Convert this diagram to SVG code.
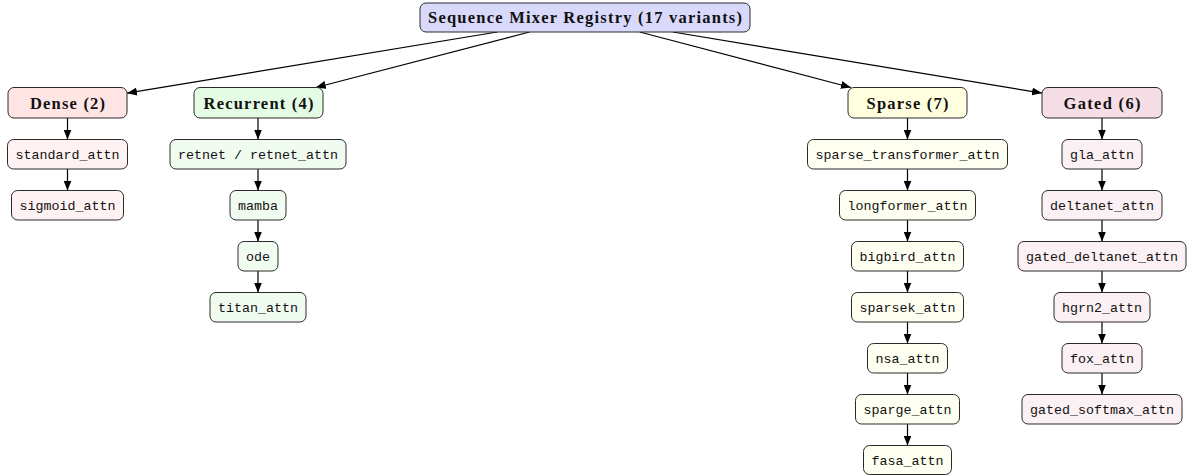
<svg xmlns="http://www.w3.org/2000/svg" width="1188" height="475" viewBox="0 0 1188 475">
<style>
rect{stroke:#2a2a2a;stroke-width:1}
.cat{font-family:"Liberation Serif",serif;font-weight:bold;font-size:16.5px;fill:#111;text-anchor:middle}
.lf{font-family:"Liberation Mono",monospace;font-size:13.33px;fill:#111;text-anchor:middle}
.e{stroke:#000;stroke-width:1.2;fill:none;marker-end:url(#ah)}
.r0{fill:#d9d9fc}
.dc{fill:#ffe4e4}.dl{fill:#fff2f2}
.rc{fill:#e4fce4}.rl{fill:#f1fcf1}
.sc{fill:#ffffdf}.sl{fill:#fefef1}
.gc{fill:#f6dee6}.gl{fill:#fbf0f3}
</style>
<defs>
<marker id="ah" viewBox="0 0 10 8" refX="10" refY="4" markerWidth="10" markerHeight="8" markerUnits="userSpaceOnUse" orient="auto">
<path d="M0,0 L10,4 L0,8 z" fill="#000"/>
</marker>
</defs>
<g id="connectors">
<line class="e" x1="497.2" y1="32" x2="127" y2="93.2"/>
<line class="e" x1="529.6" y1="32" x2="315.8" y2="87.5"/>
<line class="e" x1="639.7" y1="32" x2="850.9" y2="87.5"/>
<line class="e" x1="672.7" y1="32" x2="1042" y2="93.1"/>
<line class="e" x1="67.5" y1="118" x2="67.5" y2="139.5"/>
<line class="e" x1="67.5" y1="169" x2="67.5" y2="190.5"/>
<line class="e" x1="258" y1="118" x2="258" y2="139.5"/>
<line class="e" x1="258" y1="169" x2="258" y2="190.5"/>
<line class="e" x1="258" y1="220" x2="258" y2="241.5"/>
<line class="e" x1="258" y1="271" x2="258" y2="292.5"/>
<line class="e" x1="907.5" y1="118" x2="907.5" y2="139.5"/>
<line class="e" x1="907.5" y1="169" x2="907.5" y2="190.5"/>
<line class="e" x1="907.5" y1="220" x2="907.5" y2="241.5"/>
<line class="e" x1="907.5" y1="271" x2="907.5" y2="292.5"/>
<line class="e" x1="907.5" y1="322" x2="907.5" y2="343.5"/>
<line class="e" x1="907.5" y1="373" x2="907.5" y2="394.5"/>
<line class="e" x1="907.5" y1="424" x2="907.5" y2="445.5"/>
<line class="e" x1="1102" y1="118" x2="1102" y2="139.5"/>
<line class="e" x1="1102" y1="169" x2="1102" y2="190.5"/>
<line class="e" x1="1102" y1="220" x2="1102" y2="241.5"/>
<line class="e" x1="1102" y1="271" x2="1102" y2="292.5"/>
<line class="e" x1="1102" y1="322" x2="1102" y2="343.5"/>
<line class="e" x1="1102" y1="373" x2="1102" y2="394.5"/>
</g>
<g id="root"><rect class="r0" x="420" y="3" width="330" height="29" rx="6"/><text class="cat" x="585" y="23" textLength="314">Sequence Mixer Registry (17 variants)</text></g>
<g id="dense"><rect class="dc" x="8" y="87.5" width="119" height="30.5" rx="6"/><text class="cat" x="67.5" y="108.5" textLength="75">Dense (2)</text></g>
<g id="recurrent"><rect class="rc" x="194" y="87.5" width="129" height="30.5" rx="6"/><text class="cat" x="258.5" y="108.5" textLength="110">Recurrent (4)</text></g>
<g id="sparse"><rect class="sc" x="848" y="87.5" width="119" height="30.5" rx="6"/><text class="cat" x="907.5" y="108.5" textLength="82">Sparse (7)</text></g>
<g id="gated"><rect class="gc" x="1042" y="87.5" width="120" height="30.5" rx="6"/><text class="cat" x="1102" y="108.5" textLength="77">Gated (6)</text></g>

<g id="standard_attn"><rect class="dl" x="7.5" y="139.5" width="120" height="29.5" rx="6"/><text class="lf" x="67.5" y="159">standard_attn</text></g>
<g id="sigmoid_attn"><rect class="dl" x="11.5" y="190.5" width="112" height="29.5" rx="6"/><text class="lf" x="67.5" y="210">sigmoid_attn</text></g>

<g id="retnet"><rect class="rl" x="170" y="139.5" width="176" height="29.5" rx="6"/><text class="lf" x="258" y="159">retnet / retnet_attn</text></g>
<g id="mamba"><rect class="rl" x="230" y="190.5" width="56" height="29.5" rx="6"/><text class="lf" x="258" y="210">mamba</text></g>
<g id="ode"><rect class="rl" x="238" y="241.5" width="40" height="29.5" rx="6"/><text class="lf" x="258" y="261">ode</text></g>
<g id="titan_attn"><rect class="rl" x="210" y="292.5" width="96" height="29.5" rx="6"/><text class="lf" x="258" y="312">titan_attn</text></g>

<g id="sparse_transformer_attn"><rect class="sl" x="807.5" y="139.5" width="200" height="29.5" rx="6"/><text class="lf" x="907.5" y="159">sparse_transformer_attn</text></g>
<g id="longformer_attn"><rect class="sl" x="839.5" y="190.5" width="136" height="29.5" rx="6"/><text class="lf" x="907.5" y="210">longformer_attn</text></g>
<g id="bigbird_attn"><rect class="sl" x="851.5" y="241.5" width="112" height="29.5" rx="6"/><text class="lf" x="907.5" y="261">bigbird_attn</text></g>
<g id="sparsek_attn"><rect class="sl" x="851.5" y="292.5" width="112" height="29.5" rx="6"/><text class="lf" x="907.5" y="312">sparsek_attn</text></g>
<g id="nsa_attn"><rect class="sl" x="867.5" y="343.5" width="80" height="29.5" rx="6"/><text class="lf" x="907.5" y="363">nsa_attn</text></g>
<g id="sparge_attn"><rect class="sl" x="855.5" y="394.5" width="104" height="29.5" rx="6"/><text class="lf" x="907.5" y="414">sparge_attn</text></g>
<g id="fasa_attn"><rect class="sl" x="863.5" y="445.5" width="88" height="29" rx="6"/><text class="lf" x="907.5" y="465">fasa_attn</text></g>

<g id="gla_attn"><rect class="gl" x="1062" y="139.5" width="80" height="29.5" rx="6"/><text class="lf" x="1102" y="159">gla_attn</text></g>
<g id="deltanet_attn"><rect class="gl" x="1042" y="190.5" width="120" height="29.5" rx="6"/><text class="lf" x="1102" y="210">deltanet_attn</text></g>
<g id="gated_deltanet_attn"><rect class="gl" x="1018" y="241.5" width="168" height="29.5" rx="6"/><text class="lf" x="1102" y="261">gated_deltanet_attn</text></g>
<g id="hgrn2_attn"><rect class="gl" x="1054" y="292.5" width="96" height="29.5" rx="6"/><text class="lf" x="1102" y="312">hgrn2_attn</text></g>
<g id="fox_attn"><rect class="gl" x="1062" y="343.5" width="80" height="29.5" rx="6"/><text class="lf" x="1102" y="363">fox_attn</text></g>
<g id="gated_softmax_attn"><rect class="gl" x="1022" y="394.5" width="160" height="29.5" rx="6"/><text class="lf" x="1102" y="414">gated_softmax_attn</text></g>
</svg>
